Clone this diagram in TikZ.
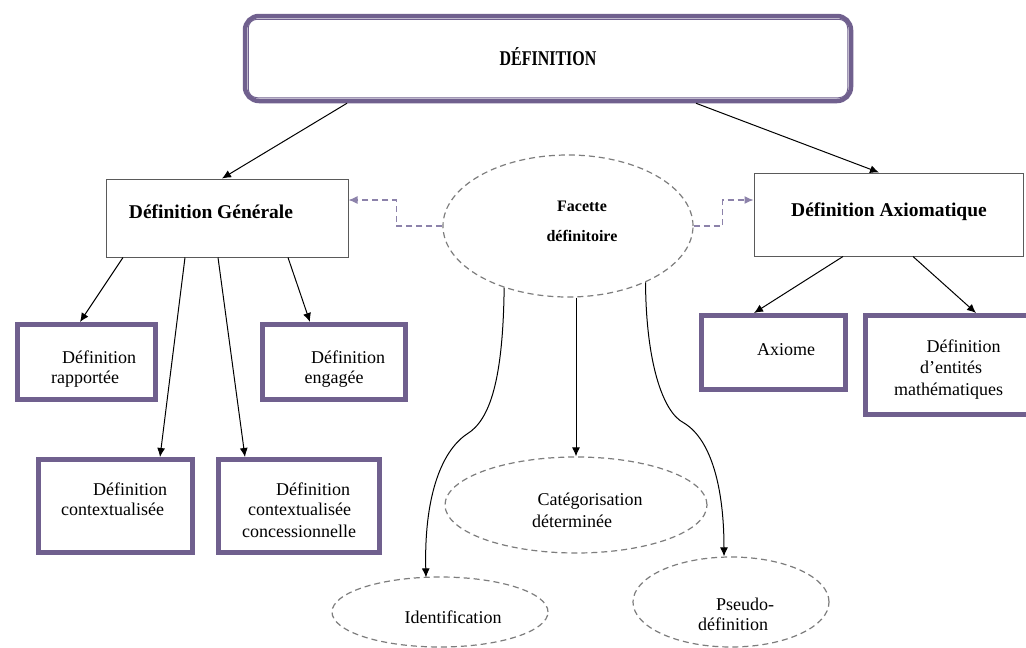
\documentclass[tikz,border=0pt]{standalone}
\usepackage{fontspec}
\setmainfont{Liberation Serif}
\usetikzlibrary{shapes.geometric,arrows.meta,calc}
\definecolor{purp}{RGB}{112,96,142}
\definecolor{dgray}{RGB}{90,90,90}
\definecolor{ellgray}{RGB}{125,125,125}
\definecolor{dashpurp}{RGB}{140,130,170}
\begin{document}
\begin{tikzpicture}[x=1pt,y=-1pt,
  pbox/.style={rectangle,draw=purp,line width=5pt,fill=white,inner sep=0pt},
  tbox/.style={rectangle,draw=dgray,line width=1pt,fill=white,inner sep=0pt},
  dell/.style={ellipse,draw=ellgray,dash pattern=on 6pt off 4pt,line width=1.2pt,inner sep=0pt},
  arr/.style={draw=black,line width=1pt,-{Latex[length=9pt,width=8pt]}},
  darr/.style={draw=dashpurp,line width=1.2pt,dash pattern=on 6pt off 4pt,-{Latex[length=9pt,width=8pt]}},
  lab/.style={inner sep=0pt,anchor=base west,font=\fontsize{18}{21}\selectfont},
  blab/.style={inner sep=0pt,font=\fontsize{19.5}{23}\selectfont\bfseries},
  flab/.style={inner sep=0pt,anchor=base,font=\fontsize{16}{19}\selectfont\bfseries},
]
\useasboundingbox (0,0) rectangle (1026,648);
\clip (0,0) rectangle (1026,648);
\fill[white] (0,0) rectangle (1026,648);

% top box
\node[draw=purp,line width=4.5pt,rounded corners=14pt,minimum width=606pt,minimum height=85pt,inner sep=0pt] (top) at (548,58.5) {};
\draw[purp,line width=1pt,rounded corners=9pt] ([xshift=5.5pt,yshift=-5.5pt]top.north west) rectangle ([xshift=-5.5pt,yshift=5.5pt]top.south east);
\node[inner sep=0pt,font=\fontsize{21}{24}\selectfont\bfseries] (ttl) at (548,57) {\scalebox{0.76}[1]{DÉFINITION}};

% main boxes
\node[tbox,minimum width=242pt,minimum height=78pt] (dg) at (227,218) {};
\node[blab] (dgt) at (211,212) {Définition Générale};
\node[tbox,minimum width=269pt,minimum height=83pt] (da) at (888.5,214.5) {};
\node[blab] (dat) at (889,212) {Définition Axiomatique};

% facette
\node[dell,minimum width=250pt,minimum height=142pt] (fac) at (568,226) {};
\node[flab] (fac1) at (582,211) {Facette};
\node[flab] (fac2) at (582,241) {définitoire};

% purple boxes
\node[pbox,minimum width=138pt,minimum height=75pt] (rap) at (86.5,362) {};
\node[lab] (rap1) at (62,363) {Définition};
\node[lab] (rap2) at (51,383) {rapportée};

\node[pbox,minimum width=143pt,minimum height=75pt] (eng) at (334,362) {};
\node[lab] (eng1) at (311,363) {Définition};
\node[lab] (eng2) at (304.5,383) {engagée};

\node[pbox,minimum width=154pt,minimum height=93pt] (ctx) at (115.5,506) {};
\node[lab] (ctx1) at (93,495) {Définition};
\node[lab] (ctx2) at (61,515) {contextualisée};

\node[pbox,minimum width=161pt,minimum height=93pt] (con) at (299,506) {};
\node[lab] (con1) at (276,495) {Définition};
\node[lab] (con2) at (248,515) {contextualisée};
\node[lab] (con3) at (242,537) {concessionnelle};

\node[pbox,minimum width=144pt,minimum height=74pt] (axi) at (773.5,352.5) {};
\node[lab,anchor=base] (axi1) at (786,355) {Axiome};

\node[pbox,minimum width=174.5pt,minimum height=99pt] (dem) at (952.75,365) {};
\node[lab] (dem1) at (926.5,352) {Définition};
\node[lab] (dem2) at (920,373) {d’entités};
\node[lab] (dem3) at (894,395) {mathématiques};

% dashed ellipses
\node[dell,minimum width=262pt,minimum height=96pt] (cat) at (576,505) {};
\node[lab] (cat1) at (537.5,505) {Catégorisation};
\node[lab] (cat2) at (532,527) {déterminée};

\node[dell,minimum width=216pt,minimum height=70pt] (ident) at (440,612) {};
\node[lab,anchor=base] (ident1) at (453,623) {Identification};

\node[dell,minimum width=196pt,minimum height=90pt] (pseudo) at (731,602) {};
\node[lab] (ps1) at (716,610) {Pseudo-};
\node[lab] (ps2) at (698,630) {définition};

% arrows
\draw[arr] ($(top.south west)!(347,0)!(top.south east)$) -- ($(dg.north west)!(222,0)!(dg.north east)$);
\draw[arr] ($(top.south west)!(696,0)!(top.south east)$) -- ($(da.north west)!(879,0)!(da.north east)$);
\draw[arr] ($(dg.south west)!(123,0)!(dg.south east)$) -- ($(rap.north west)!(80,0)!(rap.north east)$);
\draw[arr] ($(dg.south west)!(185,0)!(dg.south east)$) -- ($(ctx.north west)!(160,0)!(ctx.north east)$);
\draw[arr] ($(dg.south west)!(218,0)!(dg.south east)$) -- ($(con.north west)!(245,0)!(con.north east)$);
\draw[arr] ($(dg.south west)!(288,0)!(dg.south east)$) -- ($(eng.north west)!(310,0)!(eng.north east)$);
\draw[arr] ($(da.south west)!(843,0)!(da.south east)$) -- ($(axi.north west)!(754,0)!(axi.north east)$);
\draw[arr] ($(da.south west)!(913,0)!(da.south east)$) -- ($(dem.north west)!(976,0)!(dem.north east)$);

\draw[arr] (fac.south -| cat.north) -- (cat.north);
\draw[arr] (fac.224) .. controls (503,380) and (490,420) .. (467,434) .. controls (440,452) and (424,500) .. ($(ident.north)+(-14,1)$);
\draw[arr] (fac.324) .. controls (646,360) and (662,412) .. (684,423) .. controls (712,440) and (724,490) .. ($(pseudo.north)+(-7,0)$);

% dashed connectors
\draw[darr] (fac.west) -- ++(-46,0) |- ([yshift=18pt]dg.east);
\draw[darr] (fac.east) -- ++(29,0) |- ([yshift=14.5pt]da.west);
\end{tikzpicture}
\end{document}
